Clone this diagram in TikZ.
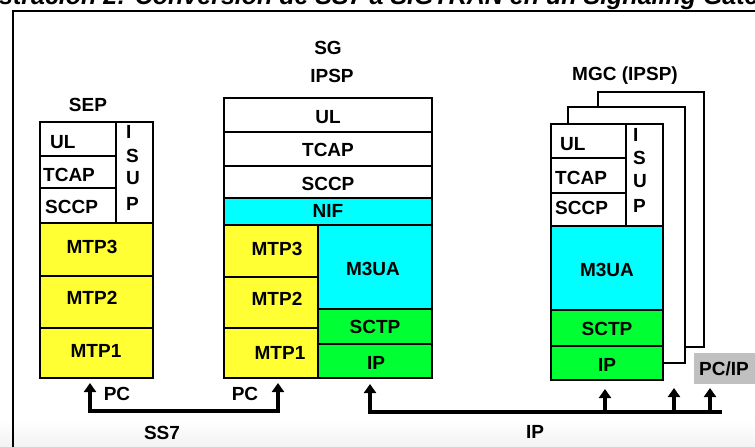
\documentclass[tikz,border=0pt]{standalone}
\usepackage{fontspec}
\setmainfont{Liberation Sans}
\usetikzlibrary{arrows.meta,calc}
\definecolor{lyellow}{RGB}{255,255,51}
\definecolor{lcyan}{RGB}{0,255,255}
\definecolor{lgreen}{RGB}{0,255,51}
\definecolor{lgrey}{RGB}{192,192,192}
\begin{document}
\begin{tikzpicture}[x=1pt,y=-1pt,
  layer/.style={draw=black,line width=1.8pt,inner sep=0pt,outer sep=0pt,anchor=north west,fill=white},
  yel/.style={layer,fill=lyellow},
  cya/.style={layer,fill=lcyan},
  gre/.style={layer,fill=lgreen},
  txt/.style={font=\fontsize{19}{22}\selectfont\bfseries,inner sep=0pt,anchor=base},
  txtl/.style={txt,anchor=base west},
  wire/.style={line width=4pt},
  arrowtip/.style={-{Triangle[width=12pt,length=9pt]}},
  arrowtips/.style={{Triangle[width=12pt,length=9pt]}-{Triangle[width=12pt,length=9pt]}}
]
\useasboundingbox (0,0) rectangle (755,447);
\clip (0,0) rectangle (755,447);

% background shading and frame
\shade[top color=white,bottom color=black!5] (0,420) rectangle (755,447);
\node[font=\fontsize{25}{30}\selectfont\bfseries\itshape,inner sep=0pt,anchor=base west] (title) at (-1,4.5)
  {\llap{Ilu}stración 2: Conversión de SS7 a SIGTRAN en un Signaling Gateway};
\draw[line width=2.2pt] (13,449) -- (13,11) -- (757,11);

% ---------- SEP ----------
\node[txt] (septitle) at (88,111) {SEP};
\node[layer,minimum width=76pt,minimum height=34pt] (sepul) at (40,122) {};
\node[layer,minimum width=76pt,minimum height=32pt] (septcap) at (40,156) {};
\node[layer,minimum width=76pt,minimum height=35pt] (sepsccp) at (40,188) {};
\node[layer,minimum width=37pt,minimum height=101pt] (sepisup) at (116,122) {};
\node[yel,minimum width=113pt,minimum height=53pt] (sepmtp3) at (40,223) {};
\node[yel,minimum width=113pt,minimum height=52pt] (sepmtp2) at (40,276) {};
\node[yel,minimum width=113pt,minimum height=50pt] (sepmtp1) at (40,328) {};
\node[txtl] (tsepul) at (50,148) {UL};
\node[txtl] (tseptcap) at (43,181) {TCAP};
\node[txtl] (tsepsccp) at (45,213) {SCCP};
\node[txtl] (tsepi) at (126,138) {I};
\node[txtl] (tseps) at (126,162) {S};
\node[txtl] (tsepu) at (126,184) {U};
\node[txtl] (tsepp) at (126,210) {P};
\node[txt] (tsepmtp3) at (92,253) {MTP3};
\node[txt] (tsepmtp2) at (92,304) {MTP2};
\node[txt] (tsepmtp1) at (96,357) {MTP1};

% ---------- SG ----------
\node[txt] (sgtitle) at (328,54) {SG};
\node[txt] (sgipsp) at (332,82) {IPSP};
\node[layer,minimum width=208pt,minimum height=34pt] (sgul) at (224,98) {};
\node[layer,minimum width=208pt,minimum height=34pt] (sgtcap) at (224,132) {};
\node[layer,minimum width=208pt,minimum height=32pt] (sgsccp) at (224,166) {};
\node[cya,minimum width=208pt,minimum height=27pt] (sgnif) at (224,198) {};
\node[yel,minimum width=94pt,minimum height=52pt] (sgmtp3) at (224,225) {};
\node[yel,minimum width=94pt,minimum height=51pt] (sgmtp2) at (224,277) {};
\node[yel,minimum width=94pt,minimum height=50pt] (sgmtp1) at (224,328) {};
\node[cya,minimum width=114pt,minimum height=84pt] (sgm3ua) at (318,225) {};
\node[gre,minimum width=114pt,minimum height=35pt] (sgsctp) at (318,309) {};
\node[gre,minimum width=114pt,minimum height=34pt] (sgip) at (318,344) {};
\node[txt] (tsgul) at (328,123) {UL};
\node[txt] (tsgtcap) at (328,156) {TCAP};
\node[txt] (tsgsccp) at (328,190) {SCCP};
\node[txt] (tsgnif) at (328,217) {NIF};
\node[txt] (tsgmtp3) at (277,255) {MTP3};
\node[txt] (tsgmtp2) at (277,305) {MTP2};
\node[txt] (tsgmtp1) at (280,359) {MTP1};
\node[txt] (tsgm3ua) at (373,275) {M3UA};
\node[txt] (tsgsctp) at (375,333) {SCTP};
\node[txt] (tsgip) at (376,369) {IP};

% ---------- MGC ----------
\node[txt] (mgctitle) at (625,80) {MGC (IPSP)};
\node[layer,minimum width=106pt,minimum height=255pt] (back3) at (598,92) {};
\node[layer,minimum width=117pt,minimum height=256pt] (back2) at (568,107) {};
\node[layer,minimum width=75pt,minimum height=34pt] (mgcul) at (551,124) {};
\node[layer,minimum width=75pt,minimum height=35pt] (mgctcap) at (551,158) {};
\node[layer,minimum width=75pt,minimum height=33pt] (mgcsccp) at (551,193) {};
\node[layer,minimum width=37pt,minimum height=102pt] (mgcisup) at (626,124) {};
\node[cya,minimum width=112pt,minimum height=84pt] (mgcm3ua) at (551,226) {};
\node[gre,minimum width=112pt,minimum height=36pt] (mgcsctp) at (551,310) {};
\node[gre,minimum width=112pt,minimum height=34pt] (mgcip) at (551,346) {};
\node[txtl] (tmgcul) at (560,150) {UL};
\node[txtl] (tmgctcap) at (555,184) {TCAP};
\node[txtl] (tmgcsccp) at (555,214) {SCCP};
\node[txtl] (tmgci) at (633,141) {I};
\node[txtl] (tmgcs) at (633,164) {S};
\node[txtl] (tmgcu) at (633,187) {U};
\node[txtl] (tmgcp) at (633,212) {P};
\node[txt] (tmgcm3ua) at (607,276) {M3UA};
\node[txt] (tmgcsctp) at (607,335) {SCTP};
\node[txt] (tmgcip) at (607,371) {IP};

\node[fill=lgrey,inner sep=0pt,outer sep=0pt,anchor=north west,minimum width=63pt,minimum height=31pt] (pcip) at (694,353) {};
\node[txt] (tpcip) at (724,375) {PC/IP};

% ---------- connectors ----------
\coordinate (ss7L) at (90,411);
\coordinate (ss7R) at (278,411);
\draw[wire,arrowtips,shorten <=5pt,shorten >=5pt] (sepmtp1.south -| ss7L) -- (ss7L) -- (ss7R) -- (sgmtp1.south -| ss7R);

\coordinate (ipL) at (370,412);
\coordinate (ipR) at (722,412);
\draw[wire,arrowtip,shorten >=6pt] (ipR) -- (ipL) -- (sgip.south -| ipL);
\coordinate (b1) at (605,412);
\coordinate (b2) at (674,412);
\coordinate (b3) at (710,412);
\draw[wire,arrowtip,shorten >=9pt] (b1) -- (mgcip.south -| b1);
\draw[wire,arrowtip,shorten >=25pt] (b2) -- (back2.south -| b2);
\draw[wire,arrowtip,shorten >=4pt] (b3) -- (pcip.south -| b3);

\node[txt] (tpcl) at (117,400) {PC};
\node[txt] (tpcr) at (245,400) {PC};
\node[txt] (tss7) at (162,439) {SS7};
\node[txt] (tipl) at (535,438) {IP};
\end{tikzpicture}
\end{document}
